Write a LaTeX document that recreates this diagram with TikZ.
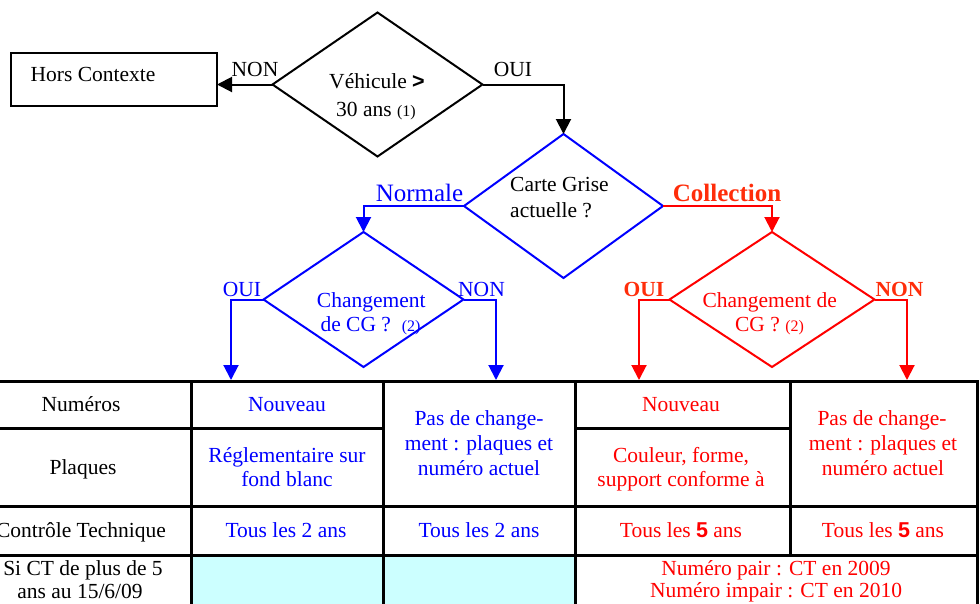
\documentclass[tikz,border=0pt]{standalone}
\usepackage{fontspec}
\setmainfont{Liberation Serif}
\newfontfamily\sansb{Liberation Sans}
\usetikzlibrary{shapes.geometric,arrows.meta}
\definecolor{cblue}{RGB}{0,0,255}
\definecolor{cred}{RGB}{255,0,0}
\definecolor{cored}{RGB}{255,45,10}
\definecolor{ccyan}{RGB}{204,255,255}
\begin{document}
\begin{tikzpicture}[x=1pt,y=-1pt,
  dia/.style={diamond, draw, line width=2pt, inner sep=0pt, outer sep=0pt},
  conn/.style={line width=2pt, -{Triangle[length=15pt,width=15pt]}},
  txt/.style={anchor=base, inner sep=0pt, font=\fontsize{21.5}{25}\selectfont},
  big/.style={anchor=base, inner sep=0pt, font=\fontsize{25}{30}\selectfont},
  gridl/.style={line width=3pt, line cap=rect}]
\useasboundingbox (0,0) rectangle (980,603);
\clip (0,0) rectangle (980,603);

% ---- flowchart ----
\node[draw, line width=1.8pt, minimum width=206pt, minimum height=53pt, inner sep=0pt, outer sep=0pt] (hc) at (114,79.5) {};
\node[txt] (hct) at (93,81.7) {Hors Contexte};

\node[dia, minimum width=210pt, minimum height=144pt] (d1) at (377.5,84.5) {};
\node[txt] (d1a) at (377,88) {Véhicule {\sansb\bfseries >}};
\node[txt] (d1b) at (376,116) {30 ans {\fontsize{16}{19}\selectfont(1)}};

\node[dia, draw=cblue, minimum width=199pt, minimum height=144pt] (d2) at (563.5,206) {};
\node[txt, anchor=base west] (d2a) at (510,191.7) {Carte Grise};
\node[txt, anchor=base west] (d2b) at (510,217) {actuelle ?};

\node[dia, draw=cblue, minimum width=200pt, minimum height=135pt] (d3) at (363.5,299.5) {};
\node[txt, text=cblue] (d3a) at (371.3,307.3) {Changement};
\node[txt, text=cblue] (d3b) at (370.5,331) {de CG ?\ \ {\fontsize{16}{19}\selectfont(2)}};

\node[dia, draw=cred, minimum width=205pt, minimum height=135pt] (d4) at (772,299.5) {};
\node[txt, text=cred] (d4a) at (769.7,307.3) {Changement de};
\node[txt, text=cred] (d4b) at (769.5,331) {CG ? {\fontsize{16}{19}\selectfont(2)}};

% arrow ends on the table
\coordinate (a1) at (231,380);
\coordinate (a2) at (496,380);
\coordinate (a3) at (639,380);
\coordinate (a4) at (907,380);

\draw[conn] (d1.west) -- (d1.west -| hc.east);
\draw[conn] (d1.east) -| (d2.north);
\draw[conn, cblue] (d2.west) -| (d3.north);
\draw[conn, cred] (d2.east) -| (d4.north);
\draw[conn, cblue] (d3.west) -| (a1);
\draw[conn, cblue] (d3.east) -| (a2);
\draw[conn, cred] (d4.west) -| (a3);
\draw[conn, cred] (d4.east) -| (a4);

% connector labels
\node[txt] (l1) at (255,76) {NON};
\node[txt] (l2) at (513,76) {OUI};
\node[big, text=cblue] (l3) at (419.5,201.5) {Normale};
\node[big, text=cored, font=\fontsize{25}{30}\selectfont\bfseries] (l4) at (727,201.5) {Collection};
\node[txt, text=cblue] (l5) at (242,296) {OUI};
\node[txt, text=cblue] (l6) at (481.5,296) {NON};
\node[txt, text=cored, font=\fontsize{21.5}{25}\selectfont\bfseries] (l7) at (644,296) {OUI};
\node[txt, text=cored, font=\fontsize{21.5}{25}\selectfont\bfseries] (l8) at (899.5,296) {NON};

% ---- table ----
\fill[ccyan] (192,555) rectangle (383.3,610);
\fill[ccyan] (383.3,555) rectangle (575,610);

\draw[gridl] (-40,381) -- (977,381);
\draw[gridl] (-40,428) -- (383.3,428);
\draw[gridl] (575,428) -- (790,428);
\draw[gridl] (-40,506) -- (977,506);
\draw[gridl] (-40,555) -- (977,555);
\draw[gridl] (191.7,381) -- (191.7,620);
\draw[gridl] (383.3,381) -- (383.3,620);
\draw[gridl] (575,381) -- (575,620);
\draw[gridl] (790,381) -- (790,555);
\draw[gridl] (977,381) -- (977,620);

% column 0
\node[txt] (c0a) at (81,411) {Numéros};
\node[txt] (c0b) at (83,474) {Plaques};
\node[txt] (c0c) at (81,537.7) {Contrôle Technique};
\node[txt] (c0d) at (83,575) {Si CT de plus de 5};
\node[txt] (c0e) at (80,598) {ans au 15/6/09};

% column 1
\node[txt, text=cblue] (c1a) at (287,411) {Nouveau};
\node[txt, text=cblue] (c1b) at (287,462.3) {Réglementaire sur};
\node[txt, text=cblue] (c1c) at (287,486.7) {fond blanc};
\node[txt, text=cblue] (c1d) at (286,537.7) {Tous les 2 ans};

% column 2
\node[txt, text=cblue] (c2a) at (479,425) {Pas de change-};
\node[txt, text=cblue] (c2b) at (479,450) {ment : plaques et};
\node[txt, text=cblue] (c2c) at (479,475) {numéro actuel};
\node[txt, text=cblue] (c2d) at (479,537.7) {Tous les 2 ans};

% column 3
\node[txt, text=cred] (c3a) at (681,411) {Nouveau};
\node[txt, text=cred] (c3b) at (681,462.3) {Couleur, forme,};
\node[txt, text=cred] (c3c) at (681,486.3) {support conforme à};
\node[txt, text=cred] (c3d) at (681,537.7) {Tous les {\sansb\bfseries 5} ans};

% column 4
\node[txt, text=cred] (c4a) at (882,425) {Pas de change-};
\node[txt, text=cred] (c4b) at (883,450) {ment : plaques et};
\node[txt, text=cred] (c4c) at (883,475) {numéro actuel};
\node[txt, text=cred] (c4d) at (883,537.7) {Tous les {\sansb\bfseries 5} ans};

% merged last row
\node[txt, text=cred] (c5a) at (776,575) {Numéro pair : CT en 2009};
\node[txt, text=cred] (c5b) at (776,597.7) {Numéro impair : CT en 2010};
\end{tikzpicture}
\end{document}
